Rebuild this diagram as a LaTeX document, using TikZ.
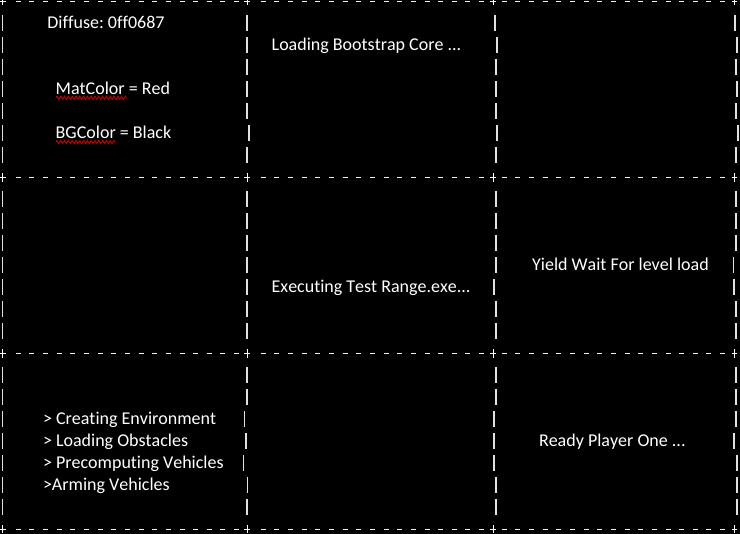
\documentclass[tikz,border=0pt]{standalone}
\usepackage{fontspec}
\setmainfont{Carlito}[Kerning=Off, Ligatures=NoCommon]
\frenchspacing
\usetikzlibrary{decorations.pathmorphing}
\begin{document}
\begin{tikzpicture}[x=1pt,y=-1pt,
  bar/.style={line width=1.6pt, draw=white!88!black},
  dashln/.style={line width=1.3pt, draw=white!95!black},
  plusmark/.style={line width=1.4pt, draw=white},
  txt/.style={text=white, font=\fontsize{18}{22}\selectfont, anchor=base west, inner sep=0pt},
  squiggle/.style={draw=red!75!black, line width=1pt, decorate,
    decoration={zigzag, segment length=3.8pt, amplitude=1.5pt}}]
\fill[black] (0,0) rectangle (740,534);
\useasboundingbox (0,0) rectangle (740,534);

% horizontal dashed rules with plus marks
\foreach \y in {1.3,177.6,353.5,529.3}{
  \foreach \s in {15.7,260.7,501.7}{
    \foreach \k in {0,...,16}{
      \draw[dashln] ({\s+13.65*\k},\y) -- ++(5,0);
    }
  }
  \foreach \x in {2.7,247.3,493.3,734.5}{
    \draw[plusmark] (\x-2.9,\y) -- (\x+2.9,\y) (\x,\y-4.2) -- (\x,\y+4.2);
  }
}

% vertical bars, one per text line
\foreach \n/\xb/\xc/\xd in {
  1/246.7/495.0/735.0, 2/247.0/496.7/737.0, 3/247.0/495.7/736.0, 4/247.0/495.7/736.7,
  5/247.0/495.7/736.0, 6/248.7/496.7/737.7, 7/247.0/495.7/736.0,
  9/246.7/495.7/735.7, 10/246.7/495.7/735.7, 11/246.7/495.7/735.7, 12/246.7/495.7/733.3,
  13/246.7/494.0/734.0, 14/246.7/495.7/735.7, 15/246.7/495.7/735.7,
  17/246.7/495.7/735.7, 18/246.7/495.7/735.7, 19/244.3/494.0/735.7, 20/245.7/494.0/734.0,
  21/243.3/494.0/736.7, 22/247.3/495.7/736.7, 23/247.0/495.7/736.7}{
  \foreach \x in {2.3,\xb,\xc,\xd}{
    \draw[bar] (\x,{22*\n+0.8-7.8}) -- (\x,{22*\n+0.8+7.8});
  }
}

% texts
\node[txt] (diffuse) at (47.2,29) {Diffuse: 0ff0687};
\node[txt] (mat) at (55.5,95) {MatColor = Red};
\node[txt] (bg) at (55.5,139) {BGColor = Black};
\node[txt] (boot) at (271.5,51) {Loading Bootstrap Core ...};
\node[txt] (exec) at (271.5,293) {Executing Test Range.exe...};
\node[txt] (yield) at (532,271) {Yield Wait For level load};
\node[txt] (env) at (42.8,425) {> Creating Environment};
\node[txt] (obst) at (42.8,447) {> Loading Obstacles};
\node[txt] (prec) at (42.8,469) {> Precomputing Vehicles};
\node[txt] (arm) at (42.8,491) {>Arming Vehicles};
\node[txt] (ready) at (538.8,447) {Ready Player One ...};

% spell-check squiggles
\draw[squiggle] (mat.base west) ++(0.5,2.8) -- ++(70.5,0);
\draw[squiggle] (bg.base west) ++(0.5,3) -- ++(59.5,0);
\end{tikzpicture}
\end{document}
